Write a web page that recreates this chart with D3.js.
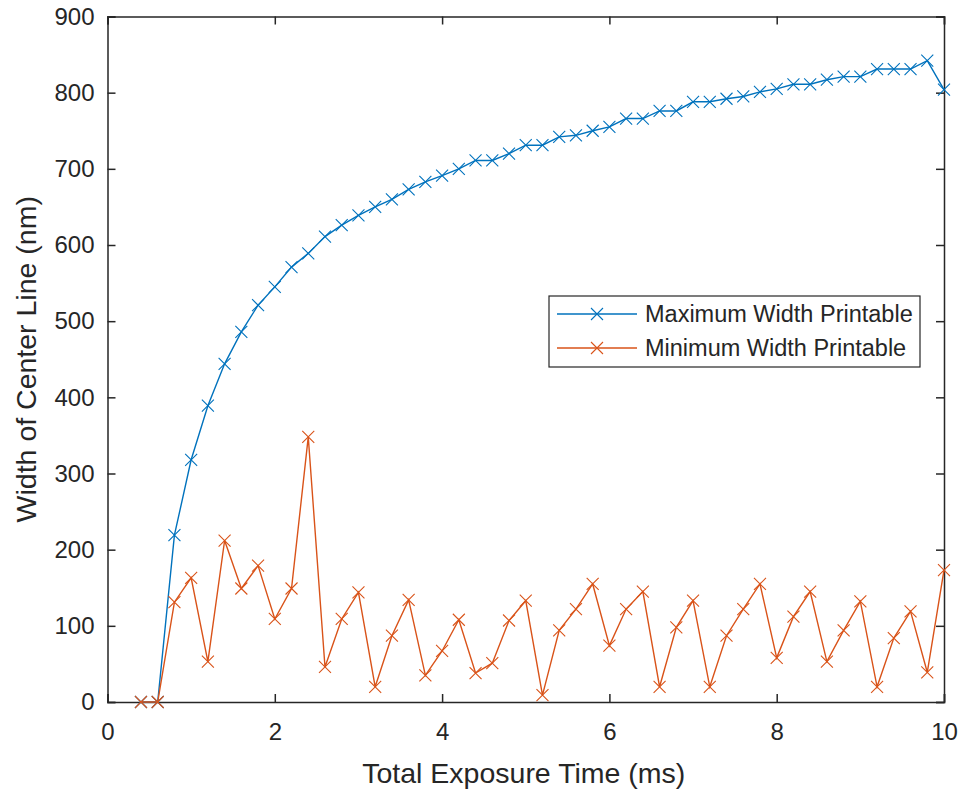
<!DOCTYPE html>
<html>
<head>
<meta charset="utf-8">
<script src="https://cdn.jsdelivr.net/npm/d3@7"></script>
<style>
  body { margin: 0; background: #fff; }
  text { font-family: "Liberation Sans", Arial, sans-serif; fill: #262626; }
</style>
</head>
<body>
<svg id="chart" width="965" height="791"></svg>
<script>
// exposure times (ms)
var times = [0.4, 0.6, 0.8, 1.0, 1.2, 1.4, 1.6, 1.8, 2.0, 2.2, 2.4, 2.6, 2.8, 3.0, 3.2, 3.4, 3.6,
             3.8, 4.0, 4.2, 4.4, 4.6, 4.8, 5.0, 5.2, 5.4, 5.6, 5.8, 6.0, 6.2, 6.4, 6.6, 6.8,
             7.0, 7.2, 7.4, 7.6, 7.8, 8.0, 8.2, 8.4, 8.6, 8.8, 9.0, 9.2, 9.4, 9.6, 9.8, 10.0];

var maxWidth = [0, 0, 219, 318, 389, 444, 486, 521, 545, 571, 589, 611, 626, 639, 650, 660, 673,
                683, 691, 700, 711, 711, 720, 731, 731, 742, 744, 750, 755, 766, 766, 776, 776,
                788, 788, 792, 795, 801, 805, 811, 811, 817, 821, 821, 831, 831, 831, 842, 804];

var minWidth = [0, 0, 131, 163, 53, 212, 149, 179, 109, 149, 348, 46, 109, 144, 20, 87, 134,
                35, 67, 108, 38, 51, 107, 133, 9, 94, 122, 155, 74, 122, 145, 20, 98,
                133, 20, 87, 122, 155, 58, 112, 145, 53, 94, 132, 20, 84, 119, 39, 173];

var xTicks = [0, 2, 4, 6, 8, 10];
var yTicks = [0, 100, 200, 300, 400, 500, 600, 700, 800, 900];

var seriesNames = ["Maximum Width Printable", "Minimum Width Printable"];
var seriesColors = ["#0072bd", "#d95319"];

var plotLeft = 107.5, plotRight = 944, plotTop = 16.5, plotBottom = 702;

var svg = d3.select("#chart");

var xScale = d3.scaleLinear().domain([0, 10]).range([plotLeft, plotRight]);
var yScale = d3.scaleLinear().domain([0, 900]).range([plotBottom, plotTop]);

var line = d3.line()
    .x(function(d) { return xScale(d[0]); })
    .y(function(d) { return yScale(d[1]); });

var s = 6;
var cross = "M" + (-s) + "," + (-s) + "L" + s + "," + s + "M" + (-s) + "," + s + "L" + s + "," + (-s);

// axes with inward ticks, box on all four sides
svg.append("g")
    .attr("transform", "translate(0," + plotBottom + ")")
    .call(d3.axisBottom(xScale).tickValues(xTicks).tickSize(-8).tickPadding(21).tickFormat(d3.format("d")))
    .call(function(g) {
        g.selectAll("text").style("font-size", "24px");
    });

svg.append("g")
    .attr("transform", "translate(0," + plotTop + ")")
    .call(d3.axisTop(xScale).tickValues(xTicks).tickSize(-8).tickFormat(""));

svg.append("g")
    .attr("transform", "translate(" + plotLeft + ",0)")
    .call(d3.axisLeft(yScale).tickValues(yTicks).tickSize(-8).tickPadding(13).tickFormat(d3.format("d")))
    .call(function(g) {
        g.selectAll("text").style("font-size", "24px");
    });

svg.append("g")
    .attr("transform", "translate(" + plotRight + ",0)")
    .call(d3.axisRight(yScale).tickValues(yTicks).tickSize(-8).tickFormat(""));

svg.selectAll(".domain, .tick line")
    .attr("stroke", "#262626")
    .attr("stroke-width", 1.5);
svg.selectAll(".tick text").attr("fill", "#262626");

// series
var seriesData = [maxWidth, minWidth];
seriesData.forEach(function(vals, i) {
    var pts = times.map(function(t, j) { return [t, vals[j]]; });
    svg.append("path")
        .datum(pts)
        .attr("d", line)
        .attr("fill", "none")
        .attr("stroke", seriesColors[i])
        .attr("stroke-width", 1.4);
    svg.append("g").selectAll("path")
        .data(pts)
        .enter().append("path")
        .attr("d", cross)
        .attr("transform", function(d) { return "translate(" + xScale(d[0]) + "," + yScale(d[1]) + ")"; })
        .attr("fill", "none")
        .attr("stroke", seriesColors[i])
        .attr("stroke-width", 1.1);
});

// axis labels
svg.append("text")
    .attr("x", (plotLeft + plotRight) / 2 - 2)
    .attr("y", 783)
    .style("text-anchor", "middle")
    .style("font-size", "28.5px")
    .text("Total Exposure Time (ms)");

svg.append("text")
    .attr("transform", "translate(36," + ((plotTop + plotBottom) / 2) + ") rotate(-90)")
    .style("text-anchor", "middle")
    .style("font-size", "28.5px")
    .text("Width of Center Line (nm)");

// legend
var legend = svg.append("g").attr("transform", "translate(549,296)");
legend.append("rect")
    .attr("width", 371)
    .attr("height", 71)
    .attr("fill", "#fff")
    .attr("stroke", "#262626")
    .attr("stroke-width", 1.2);

seriesNames.forEach(function(name, i) {
    var ly = 18 + i * 34;
    legend.append("line")
        .attr("x1", 8).attr("x2", 88)
        .attr("y1", ly).attr("y2", ly)
        .attr("stroke", seriesColors[i])
        .attr("stroke-width", 1.4);
    legend.append("path")
        .attr("d", cross)
        .attr("transform", "translate(48," + ly + ")")
        .attr("fill", "none")
        .attr("stroke", seriesColors[i])
        .attr("stroke-width", 1.1);
    legend.append("text")
        .attr("x", 96)
        .attr("y", ly)
        .attr("dy", "0.35em")
        .style("font-size", "23.5px")
        .text(name);
});
</script>
</body>
</html>
